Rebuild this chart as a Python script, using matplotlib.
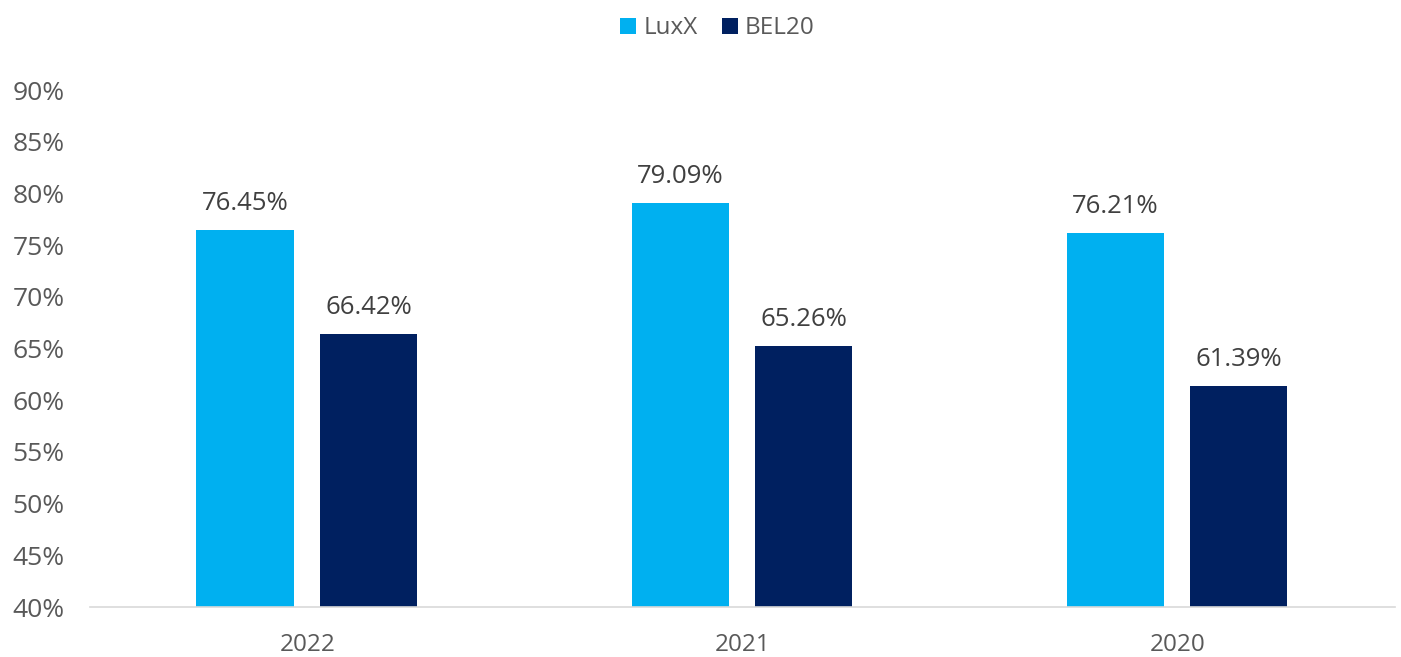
import matplotlib.pyplot as plt
import numpy as np

years = ["2022", "2021", "2020"]
luxx = [76.45, 79.09, 76.21]
bel20 = [66.42, 65.26, 61.39]
y_ticks = [40, 45, 50, 55, 60, 65, 70, 75, 80, 85, 90]

plt.rcParams['font.family'] = ['Open Sans', 'DejaVu Sans']
grey = '#595959'

fig = plt.figure(figsize=(14.01, 6.57), dpi=100)
ax = fig.add_axes([0.064, 0.0761, 0.9317, 0.7869])

x = np.arange(len(years))
w = 0.223
b1 = ax.bar(x - 0.143, luxx, w, color='#00B0F0', label='LuxX')
b2 = ax.bar(x + 0.141, bel20, w, color='#002060', label='BEL20')

for bars, vals in ((b1, luxx), (b2, bel20)):
    for rect, v in zip(bars, vals):
        ax.annotate(f"{v:.2f}%", (rect.get_x() + rect.get_width() / 2, v),
                    xytext=(0, 10), textcoords='offset points',
                    ha='center', va='bottom', fontsize=18.5, color='#404040')

ax.set_xlim(-0.5, 2.5)
ax.set_ylim(40, 90)
ax.set_yticks(y_ticks)
ax.set_yticklabels([f"{t}%" for t in y_ticks])
ax.set_xticks(x)
ax.set_xticklabels(years)
ax.tick_params(axis='y', length=0, labelsize=19, colors=grey, pad=18)
ax.tick_params(axis='x', length=0, labelsize=17.5, colors=grey, pad=19)
for s in ('top', 'right', 'left'):
    ax.spines[s].set_visible(False)
ax.spines['bottom'].set_color('#D9D9D9')
ax.spines['bottom'].set_linewidth(1.2)

fig.legend(handles=[b1, b2], loc='center', bbox_to_anchor=(0.512, 0.957),
           ncol=2, frameon=False, fontsize=17.5, labelcolor=grey,
           handlelength=0.65, handleheight=0.65, handletextpad=0.3, columnspacing=1.0)

fig.savefig('out.png', dpi=100)
